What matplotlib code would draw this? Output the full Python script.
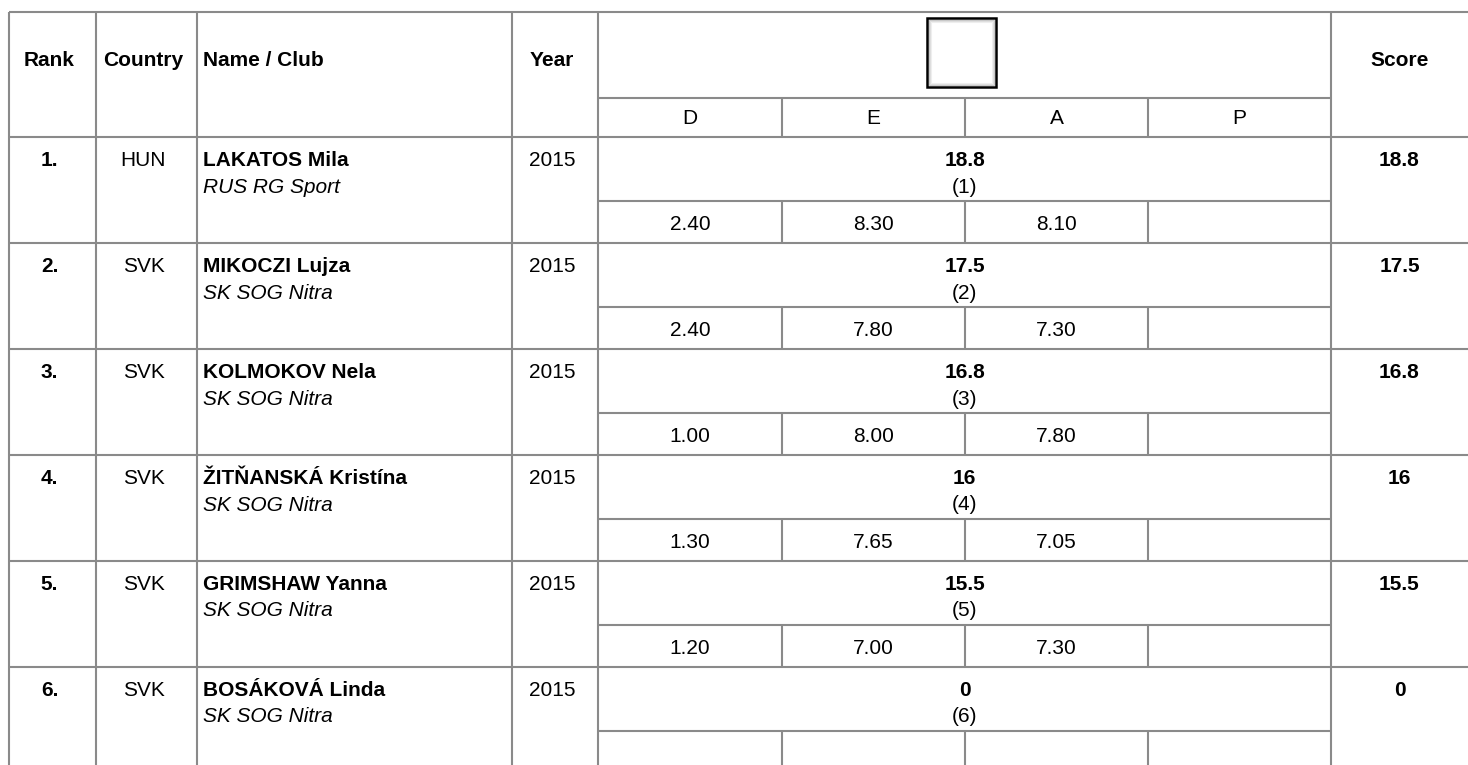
import matplotlib
matplotlib.use("Agg")
from matplotlib import pyplot as plt
from matplotlib.patches import Rectangle

#----------------------------------------------------------------------------------------------------#
# Table data
#----------------------------------------------------------------------------------------------------#

headers = ["Rank", "Country", "Name / Club", "Year", "Score"]
judgeLabels = ["D", "E", "A", "P"]

ranks = ["1.", "2.", "3.", "4.", "5.", "6."]
countries = ["HUN", "SVK", "SVK", "SVK", "SVK", "SVK"]
names = ["LAKATOS Mila", "MIKOCZI Lujza", "KOLMOKOV Nela",
         "ŽITŇANSKÁ Kristína", "GRIMSHAW Yanna", "BOSÁKOVÁ Linda"]
clubs = ["RUS RG Sport", "SK SOG Nitra", "SK SOG Nitra",
         "SK SOG Nitra", "SK SOG Nitra", "SK SOG Nitra"]
years = ["2015", "2015", "2015", "2015", "2015", "2015"]
apparatusTotals = ["18.8", "17.5", "16.8", "16", "15.5", "0"]
apparatusPlaces = ["(1)", "(2)", "(3)", "(4)", "(5)", "(6)"]
dScores = ["2.40", "2.40", "1.00", "1.30", "1.20", ""]
eScores = ["8.30", "7.80", "8.00", "7.65", "7.00", ""]
aScores = ["8.10", "7.30", "7.80", "7.05", "7.30", ""]
pScores = ["", "", "", "", "", ""]
scores = ["18.8", "17.5", "16.8", "16", "15.5", "0"]

#----------------------------------------------------------------------------------------------------#
# Layout (pixels)
#----------------------------------------------------------------------------------------------------#

W, H = 1468, 765
colX = [9, 96, 197, 512, 598, 1331]      # left edges of Rank, Country, Name, Year, apparatus, Score
judgeX = [598, 782, 965, 1148, 1331]     # D / E / A / P cell edges
rightX = W
topY = 12
subHeadY = 98
headBottom = 137
rowH = 106
subOff = 64

lineColor = "#8a8a8a"
lw = 1.5
fs = 15

plt.rcParams['font.family'] = ['Liberation Sans', 'DejaVu Sans']

fig = plt.figure(figsize=(W / 100, H / 100), dpi=100)
ax = fig.add_axes([0, 0, 1, 1])
ax.set_xlim(0, W)
ax.set_ylim(H, 0)
ax.axis("off")


def hline(y, x0, x1):
    ax.plot([x0, x1], [y, y], color=lineColor, lw=lw, solid_capstyle="butt")


def vline(x, y0, y1):
    ax.plot([x, x], [y0, y1], color=lineColor, lw=lw, solid_capstyle="butt")


nRows = len(ranks)
bottomY = headBottom + rowH * nRows

#----------------------------------------------------------------------------------------------------#
# Grid
#----------------------------------------------------------------------------------------------------#

hline(topY, colX[0], rightX)
for x in colX:
    vline(x, topY, bottomY)
hline(subHeadY, judgeX[0], judgeX[-1])
for x in judgeX[1:-1]:
    vline(x, subHeadY, headBottom)

for i in range(nRows):
    r0 = headBottom + rowH * i
    hline(r0, colX[0], rightX)
    hline(r0 + subOff, judgeX[0], judgeX[-1])
    for x in judgeX[1:-1]:
        vline(x, r0 + subOff, r0 + rowH)

#----------------------------------------------------------------------------------------------------#
# Header
#----------------------------------------------------------------------------------------------------#

headBase = 66
ax.text((colX[0] + colX[1]) / 2 - 3, headBase, headers[0], ha="center", va="baseline", fontsize=fs, fontweight="bold")
ax.text((colX[1] + colX[2]) / 2 - 3, headBase, headers[1], ha="center", va="baseline", fontsize=fs, fontweight="bold")
ax.text(colX[2] + 6, headBase, headers[2], ha="left", va="baseline", fontsize=fs, fontweight="bold")
ax.text((colX[3] + colX[4]) / 2 - 3, headBase, headers[3], ha="center", va="baseline", fontsize=fs, fontweight="bold")
ax.text((colX[5] + rightX) / 2, headBase, headers[4], ha="center", va="baseline", fontsize=fs, fontweight="bold")

# apparatus icon placeholder box
bx0, by0, bx1, by1 = 927, 18, 996, 87
for k, c in enumerate(["#c8c8c8", "#dedede", "#eeeeee"]):
    ax.add_patch(Rectangle((bx0 + 2 + k, by0 + 2 + k), bx1 - bx0 - 4 - 2 * k, by1 - by0 - 4 - 2 * k,
                           fill=False, edgecolor=c, lw=0.8))
ax.add_patch(Rectangle((bx0, by0), bx1 - bx0, by1 - by0, fill=False, edgecolor="black", lw=1.8))

for j, lab in enumerate(judgeLabels):
    ax.text((judgeX[j] + judgeX[j + 1]) / 2, 124, lab, ha="center", va="baseline", fontsize=fs)

#----------------------------------------------------------------------------------------------------#
# Rows
#----------------------------------------------------------------------------------------------------#

judgeCols = [dScores, eScores, aScores, pScores]
for i in range(nRows):
    r0 = headBottom + rowH * i
    b1 = r0 + 29
    b2 = r0 + 55.5
    b3 = r0 + 93
    ax.text((colX[0] + colX[1]) / 2 - 3, b1, ranks[i], ha="center", va="baseline", fontsize=fs, fontweight="bold")
    ax.text((colX[1] + colX[2]) / 2 - 3, b1, countries[i], ha="center", va="baseline", fontsize=fs)
    ax.text(colX[2] + 6, b1, names[i], ha="left", va="baseline", fontsize=fs, fontweight="bold")
    ax.text(colX[2] + 6, b2, clubs[i], ha="left", va="baseline", fontsize=fs, fontstyle="italic")
    ax.text((colX[3] + colX[4]) / 2 - 3, b1, years[i], ha="center", va="baseline", fontsize=fs)
    midApp = (judgeX[0] + judgeX[-1]) / 2
    ax.text(midApp, b1, apparatusTotals[i], ha="center", va="baseline", fontsize=fs, fontweight="bold")
    ax.text(midApp, b2, apparatusPlaces[i], ha="center", va="baseline", fontsize=fs)
    for j, col in enumerate(judgeCols):
        if col[i]:
            ax.text((judgeX[j] + judgeX[j + 1]) / 2, b3, col[i], ha="center", va="baseline", fontsize=fs)
    ax.text((colX[5] + rightX) / 2, b1, scores[i], ha="center", va="baseline", fontsize=fs, fontweight="bold")

fig.savefig("out.png", dpi=100)
plt.close("all")
